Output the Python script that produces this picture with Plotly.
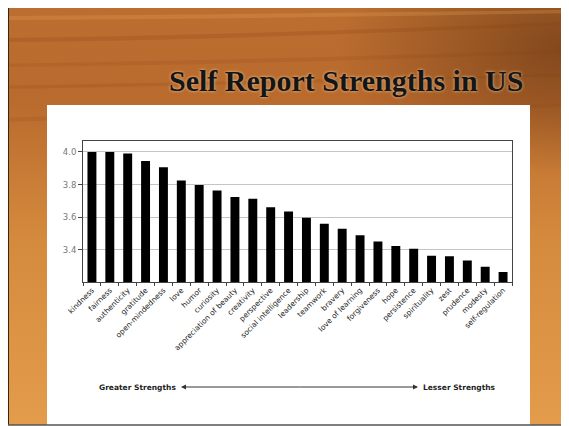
import base64
import plotly.graph_objects as go

# The page body has an 8px margin, so the figure is sized to the visible area
OFF = 8
W, H = 569 - OFF, 426 - OFF

strengths = ["kindness", "fairness", "authenticity", "gratitude", "open-mindedness",
             "love", "humor", "curiosity", "appreciation of beauty", "creativity",
             "perspective", "social intelligence", "leadership", "teamwork", "bravery",
             "love of learning", "forgiveness", "hope", "persistence", "spirituality",
             "zest", "prudence", "modesty", "self-regulation"]
scores = [4.00, 4.00, 3.99, 3.945, 3.907, 3.826, 3.798, 3.764, 3.725, 3.713,
          3.662, 3.636, 3.598, 3.56, 3.53, 3.49, 3.452, 3.424, 3.408, 3.365,
          3.362, 3.335, 3.297, 3.265]
y_ticks = [3.4, 3.6, 3.8, 4.0]
y_tick_labels = ["3.4", "3.6", "3.8", "4.0"]
title_text = "Self Report Strengths in US"
left_label = "Greater Strengths"
right_label = "Lesser Strengths"


def px(x):
    """page x pixel -> paper fraction"""
    return (x - OFF) / W


def py(y):
    """page y pixel -> paper fraction"""
    return 1 - (y - OFF) / H


# decorative wood texture (SVG)
svg = """<svg xmlns='http://www.w3.org/2000/svg' width='561' height='418' viewBox='0 0 561 418' preserveAspectRatio='none'>
<defs>
<linearGradient id='g' x1='0' y1='0' x2='0' y2='1'>
<stop offset='0' stop-color='#BC6E30'/>
<stop offset='0.22' stop-color='#B96A2D'/>
<stop offset='0.55' stop-color='#D48A3D'/>
<stop offset='1' stop-color='#E39C4B'/>
</linearGradient>
<radialGradient id='r' cx='561' cy='40' r='230' gradientUnits='userSpaceOnUse'
 gradientTransform='translate(561 40) scale(1 0.55) translate(-561 -40)'>
<stop offset='0' stop-color='#3a1a05' stop-opacity='0.45'/>
<stop offset='0.6' stop-color='#3a1a05' stop-opacity='0.18'/>
<stop offset='1' stop-color='#3a1a05' stop-opacity='0'/>
</radialGradient>
</defs>
<rect width='561' height='418' fill='url(#g)'/>
<rect width='561' height='418' fill='url(#r)'/>
<path d='M0 30 Q200 28 561 14 L561 17 Q200 33 0 34 Z' fill='#8a3f12' opacity='0.22'/>
<path d='M0 56 Q250 52 561 42 L561 45 Q250 57 0 59 Z' fill='#8a3f12' opacity='0.15'/>
<path d='M0 78 Q300 72 561 66 L561 68 Q300 76 0 81 Z' fill='#7a3a10' opacity='0.15'/>
<path d='M0 8 Q250 6 561 2 L561 5 Q250 11 0 12 Z' fill='#e8a858' opacity='0.25'/>
<path d='M0 110 Q300 100 561 96 L561 99 Q300 104 0 114 Z' fill='#7a3a10' opacity='0.12'/>
</svg>"""
wood = "data:image/svg+xml;base64," + base64.b64encode(svg.encode()).decode()

fig = go.Figure()
fig.add_trace(go.Bar(x=strengths, y=scores, marker=dict(color="black", line=dict(width=0)),
                     hoverinfo="x+y"))

fig.add_layout_image(dict(source=wood, xref="paper", yref="paper",
                          x=0, y=1, sizex=1, sizey=1 - py(425),
                          xanchor="left", yanchor="top", sizing="stretch", layer="below"))

shapes = [
    dict(type="line", xref="paper", yref="paper", x0=px(8.5), x1=px(8.5), y0=py(425), y1=1,
         line=dict(color="#3a2510", width=1), layer="below"),
    dict(type="rect", xref="paper", yref="paper", x0=px(47), x1=px(530), y0=py(425), y1=py(105),
         line=dict(width=0), fillcolor="white", layer="below"),
    dict(type="line", xref="paper", yref="paper", x0=0, x1=1, y0=py(425), y1=py(425),
         line=dict(color="#555555", width=1.5)),
]

annotations = [
    dict(text=f"<b>{title_text}</b>", xref="paper", yref="paper", x=px(346), y=py(80),
         xanchor="center", yanchor="middle", showarrow=False,
         font=dict(family="Liberation Serif", size=30, color="#151515",
                   shadow="0px 0px 3px #f0d0a0")),
    dict(text=f"<b>{left_label}</b>", xref="paper", yref="paper", x=px(178), y=py(387),
         xanchor="right", yanchor="middle", showarrow=False,
         font=dict(family="DejaVu Sans", size=7.5, color="#222")),
    dict(text=f"<b>{right_label}</b>", xref="paper", yref="paper", x=px(421), y=py(387),
         xanchor="left", yanchor="middle", showarrow=False,
         font=dict(family="DejaVu Sans", size=7.5, color="#222")),
    dict(text="", xref="paper", yref="paper", axref="pixel", ayref="pixel",
         x=px(181), y=py(387), ax=120, ay=0, showarrow=True, arrowhead=2,
         arrowsize=1, arrowwidth=1, arrowcolor="#333"),
    dict(text="", xref="paper", yref="paper", axref="pixel", ayref="pixel",
         x=px(418), y=py(387), ax=-120, ay=0, showarrow=True, arrowhead=2,
         arrowsize=1, arrowwidth=1, arrowcolor="#333"),
]

fig.update_layout(
    width=W, height=H, margin=dict(l=0, r=0, t=0, b=0, autoexpand=False),
    paper_bgcolor="white", plot_bgcolor="white",
    showlegend=False, bargap=0.5,
    shapes=shapes, annotations=annotations,
    xaxis=dict(domain=[px(83), px(512)], showline=True, mirror=True, linecolor="#444",
               linewidth=1, ticks="outside", tickson="boundaries", ticklen=3,
               tickcolor="#444", tickangle=-45, showgrid=False, automargin=False,
               tickfont=dict(family="DejaVu Sans", size=7.5, color="#222")),
    yaxis=dict(domain=[py(282), py(141)], range=[3.204, 4.067], showline=True, mirror=True,
               linecolor="#444", linewidth=1, ticks="outside", ticklen=4, tickcolor="#444",
               tickvals=y_ticks, ticktext=y_tick_labels, showgrid=True, automargin=False,
               gridcolor="#c4c4c4", gridwidth=1, zeroline=False,
               tickfont=dict(family="DejaVu Sans", size=8.5, color="#777")),
)

fig.write_html("out.html")
